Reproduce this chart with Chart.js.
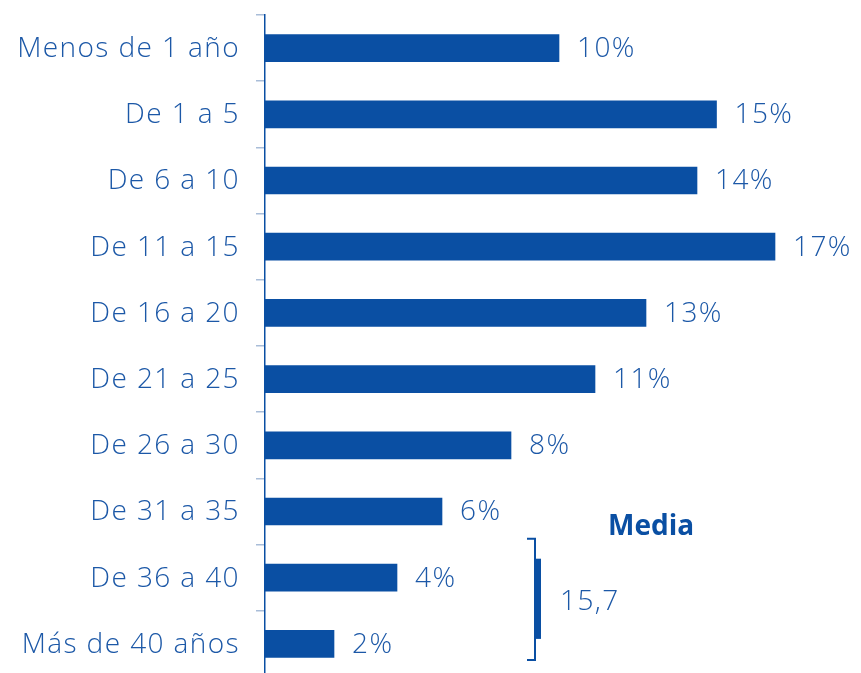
<!DOCTYPE html>
<html>
<head>
<meta charset="utf-8">
<script src="https://cdn.jsdelivr.net/npm/chart.js@4.4.0/dist/chart.umd.min.js"></script>
<style>
    html, body { margin: 0; padding: 0; background: #fff; overflow: hidden; }
    #wrap { width: 861px; height: 690px; position: relative; }
</style>
</head>
<body>
<div id="wrap"><canvas id="chart"></canvas></div>
<script>
// Antigüedad (años) and share of total
const categories = ['Menos de 1 año', 'De 1 a 5', 'De 6 a 10', 'De 11 a 15', 'De 16 a 20',
    'De 21 a 25', 'De 26 a 30', 'De 31 a 35', 'De 36 a 40', 'Más de 40 años'];
const shares = [9.8, 15.05, 14.4, 17.0, 12.7, 11.0, 8.2, 5.9, 4.4, 2.3];
const shareLabels = ['10%', '15%', '14%', '17%', '13%', '11%', '8%', '6%', '4%', '2%'];
const averageTitle = 'Media';
const averageValue = '15,7';

const BAR = '#0a4fa3';
const TEXT = '#1c58a7';
const FONT = '"Open Sans", sans-serif';
const LABEL_FONT = '300 28px ' + FONT;
const SPACING = '1.4px';

// category names on the left and values next to each bar
const textLabels = {
    id: 'textLabels',
    afterDatasetsDraw(chart) {
        const ctx = chart.ctx;
        const meta = chart.getDatasetMeta(0);
        ctx.save();
        ctx.fillStyle = TEXT;
        ctx.font = LABEL_FONT;
        ctx.letterSpacing = SPACING;
        ctx.textBaseline = 'middle';
        meta.data.forEach((bar, i) => {
            ctx.textAlign = 'right';
            ctx.fillText(categories[i], chart.chartArea.left - 25, bar.y + 1);
            ctx.textAlign = 'left';
            ctx.fillText(shareLabels[i], bar.x + 18, bar.y + 1);
        });
        ctx.restore();
    }
};

// "Media 15,7" with the bracket round the last two bars
const averageNote = {
    id: 'averageNote',
    afterDraw(chart) {
        const ctx = chart.ctx;
        const x = chart.scales.x;
        const y = chart.scales.y;
        const bx = x.getPixelForValue(9);
        const y8 = y.getPixelForValue(8);
        const y9 = y.getPixelForValue(9);
        const top = y8 - 39;
        const bottom = y9 + 16;
        ctx.save();
        ctx.strokeStyle = BAR;
        ctx.lineWidth = 2;
        ctx.beginPath();
        ctx.moveTo(bx - 8, top);
        ctx.lineTo(bx, top);
        ctx.lineTo(bx, bottom);
        ctx.lineTo(bx - 8, bottom);
        ctx.stroke();
        ctx.fillStyle = BAR;
        ctx.fillRect(bx, y8 - 19, 6, (y9 - 5) - (y8 - 19));

        ctx.textBaseline = 'middle';
        ctx.textAlign = 'left';
        ctx.font = 'bold 28px ' + FONT;
        ctx.fillStyle = BAR;
        ctx.fillText(averageTitle, bx + 73, top - 12);
        ctx.font = LABEL_FONT;
        ctx.letterSpacing = SPACING;
        ctx.fillStyle = TEXT;
        ctx.fillText(averageValue, bx + 25, y8 + 24);
        ctx.restore();
    }
};

const ctx = document.getElementById('chart').getContext('2d');
new Chart(ctx, {
    type: 'bar',
    data: {
        labels: categories,
        datasets: [{
            data: shares,
            backgroundColor: BAR,
            borderWidth: 0,
            barThickness: 27
        }]
    },
    options: {
        indexAxis: 'y',
        responsive: true,
        maintainAspectRatio: false,
        animation: false,
        layout: { padding: { top: 15, bottom: 13, right: 26, left: 0 } },
        plugins: {
            legend: { display: false },
            tooltip: { enabled: false }
        },
        scales: {
            x: {
                display: false,
                min: 0,
                max: 19
            },
            y: {
                afterFit(scale) {
                    scale.width = 265;
                    scale.paddingTop = 0;
                    scale.paddingBottom = 0;
                },
                grid: {
                    offset: true,
                    drawOnChartArea: false,
                    tickLength: 9,
                    color: '#a9bdd8',
                    lineWidth: 1.5
                },
                border: { color: BAR, width: 1.5 },
                ticks: { display: false }
            }
        }
    },
    plugins: [textLabels, averageNote]
});
</script>
</body>
</html>
